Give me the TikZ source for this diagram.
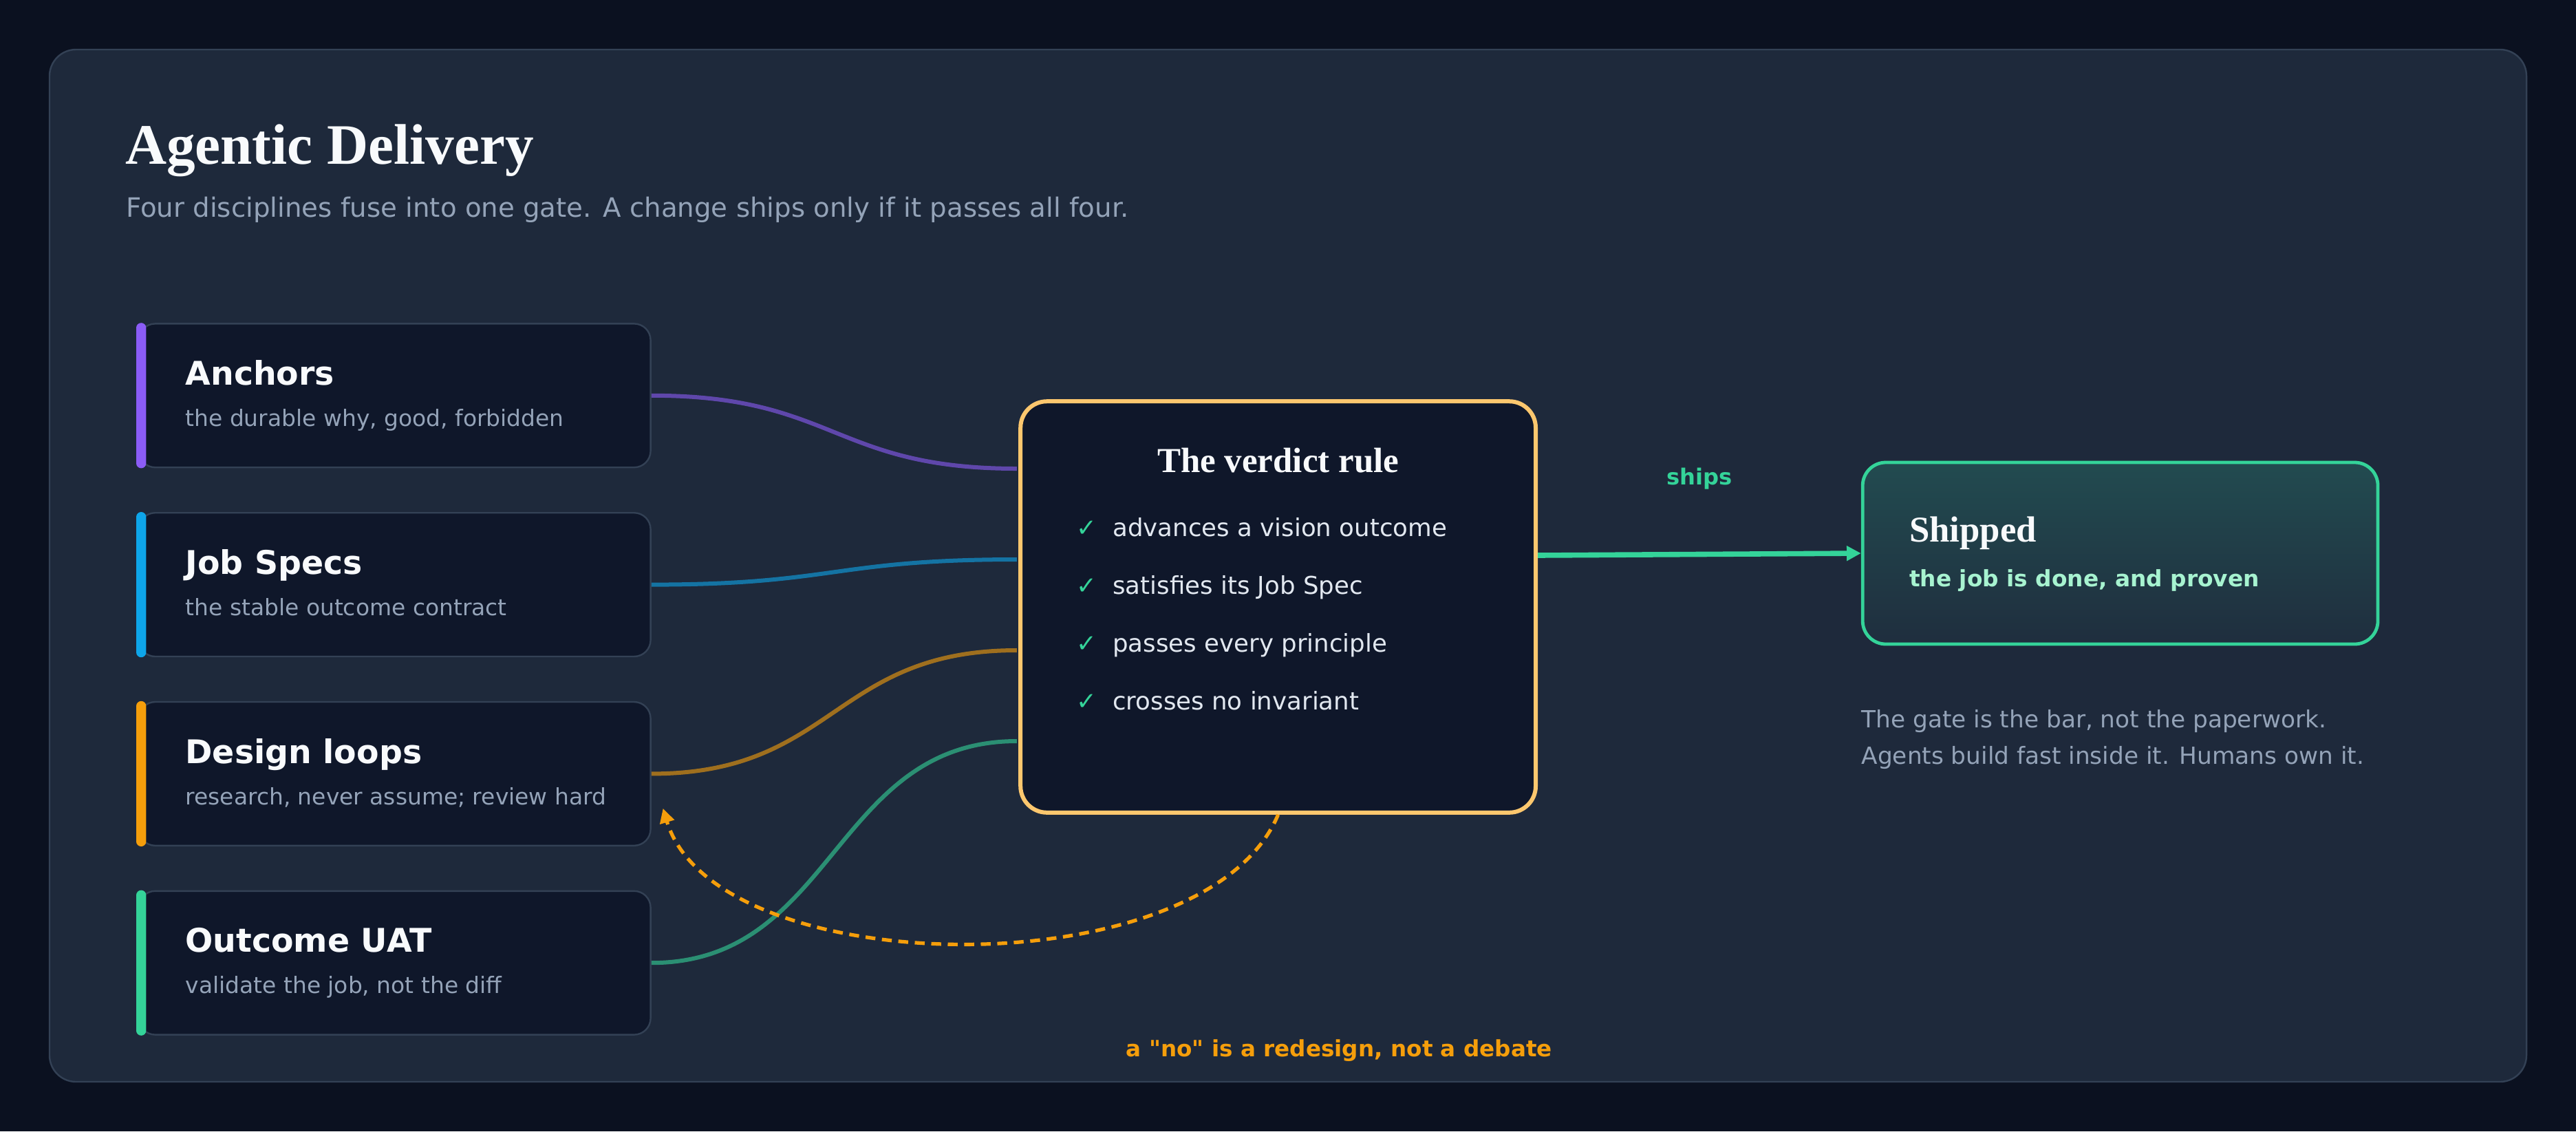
\documentclass[tikz,border=0pt]{standalone}
\usepackage{fontspec}
\setmainfont{Liberation Serif}
\newfontfamily\sans{DejaVu Sans}
\usetikzlibrary{arrows.meta,calc}

\definecolor{pagebg}{HTML}{0B1120}
\definecolor{panelbg}{HTML}{1E293B}
\definecolor{panelline}{HTML}{334155}
\definecolor{cardbg}{HTML}{0F172A}
\definecolor{inkwhite}{HTML}{F8FAFC}
\definecolor{inksoft}{HTML}{E2E8F0}
\definecolor{muted}{HTML}{94A3B8}
\definecolor{accviolet}{HTML}{8B5CF6}
\definecolor{accsky}{HTML}{0EA5E9}
\definecolor{accamber}{HTML}{F59E0B}
\definecolor{accmint}{HTML}{34D399}
\definecolor{mintpale}{HTML}{A7F3D0}
\definecolor{gateline}{HTML}{FCC76E}
\definecolor{shiptop}{HTML}{224B50}
\definecolor{shipbot}{HTML}{1F2E3E}

\newcommand{\tick}{\makebox[13.2pt][l]{\textcolor{accmint}{✓}}}

\begin{document}
\begin{tikzpicture}[x=0.6pt, y=-0.6pt,
    every node/.style={inner sep=0pt},
    card/.style={draw=panelline, fill=cardbg, line width=0.6pt, rounded corners=6pt,
        minimum width=186pt, minimum height=52.2pt},
    cardhead/.style={anchor=base west, text=inkwhite, font=\sans\bfseries\fontsize{11.85}{14}\selectfont},
    cardnote/.style={anchor=base west, text=muted, font=\sans\fontsize{8.23}{10}\selectfont},
    item/.style={anchor=base west, text=inksoft, font=\sans\fontsize{8.9}{11}\selectfont},
    link/.style={line width=1.5pt, draw opacity=0.6},
    tip/.style={-{Triangle[length=5.2pt,width=5.2pt]}}]

    % Page and panel
    \fill[pagebg] (0,0) rectangle (1560,685);
    \draw[panelline, fill=panelbg, line width=0.6pt, rounded corners=9.6pt] (30,30) rectangle (1530,655);

    % Heading
    \node[anchor=base west, text=inkwhite, font=\bfseries\fontsize{20.8}{24}\selectfont] (title) at (75.5,99.3) {Agentic Delivery};
    \node[anchor=base west, text=muted, font=\sans\fontsize{9.68}{12}\selectfont] (subtitle) at (76,131.5)
        {Four disciplines fuse into one gate. A change ships only if it passes all four.};

    % ---------- FOUR DISCIPLINES ----------

    \node[card] (anchors) at (239,239.5) {};
    \fill[accviolet, rounded corners=1.8pt] ($(anchors.north west)+(-1,0)$) rectangle ($(anchors.south west)+(5,0)$);
    \node[cardhead] at ($(anchors.north west)+(28.5,37.6)$) {Anchors};
    \node[cardnote] at ($(anchors.north west)+(28.5,62.6)$) {the durable why, good, forbidden};

    \node[card] (jobspec) at (239,354) {};
    \fill[accsky, rounded corners=1.8pt] ($(jobspec.north west)+(-1,0)$) rectangle ($(jobspec.south west)+(5,0)$);
    \node[cardhead] at ($(jobspec.north west)+(28.5,37.6)$) {Job Specs};
    \node[cardnote] at ($(jobspec.north west)+(28.5,62.6)$) {the stable outcome contract};

    \node[card] (design) at (239,468.5) {};
    \fill[accamber, rounded corners=1.8pt] ($(design.north west)+(-1,0)$) rectangle ($(design.south west)+(5,0)$);
    \node[cardhead] at ($(design.north west)+(28.5,37.6)$) {Design loops};
    \node[cardnote] at ($(design.north west)+(28.5,62.6)$) {research, never assume; review hard};

    \node[card] (uat) at (239,583) {};
    \fill[accmint, rounded corners=1.8pt] ($(uat.north west)+(-1,0)$) rectangle ($(uat.south west)+(5,0)$);
    \node[cardhead] at ($(uat.north west)+(28.5,37.6)$) {Outcome UAT};
    \node[cardnote] at ($(uat.north west)+(28.5,62.6)$) {validate the job, not the diff};

    % ---------- THE GATE ----------

    \node[draw=gateline, fill=cardbg, line width=1.5pt, rounded corners=9.6pt,
        minimum width=187.2pt, minimum height=149.4pt] (gate) at (774,367.5) {};
    \node[anchor=base, text=inkwhite, font=\bfseries\fontsize{12.75}{15}\selectfont] at ($(gate.north)+(0,44.2)$) {The verdict rule};
    \node[item] (rule1) at ($(gate.north west)+(34.8,83)$) {\tick advances a vision outcome};
    \node[item] (rule2) at ($(gate.north west)+(34.8,118)$) {\tick satisfies its Job Spec};
    \node[item] (rule3) at ($(gate.north west)+(34.8,153)$) {\tick passes every principle};
    \node[item] (rule4) at ($(gate.north west)+(34.8,188)$) {\tick crosses no invariant};

    % Entry points on the gate
    \coordinate (in1) at ($(gate.north west)+(-1,42)$);
    \coordinate (in2) at ($(gate.north west)+(-1,97)$);
    \coordinate (in3) at ($(gate.north west)+(-1,152)$);
    \coordinate (in4) at ($(gate.north west)+(-1,207)$);

    % Disciplines fuse into the gate
    \draw[link, accviolet] (anchors.east) .. controls +(111,0) and +(-111,0) .. (in1);
    \draw[link, accsky] (jobspec.east) .. controls +(111,0) and +(-111,0) .. (in2);
    \draw[link, accamber] (design.east) .. controls +(111,0) and +(-111,0) .. (in3);
    \draw[link, accmint] (uat.east) .. controls +(111,0) and +(-111,0) .. (in4);

    % ---------- SHIPPED ----------

    \node[draw=accmint, top color=shiptop, bottom color=shipbot, line width=1.2pt, rounded corners=8.4pt,
        minimum width=187.2pt, minimum height=66pt] (shipped) at (1284,335) {};
    \node[anchor=base west, text=inkwhite, font=\bfseries\fontsize{13.2}{16}\selectfont] at ($(shipped.north west)+(29,49)$) {Shipped};
    \node[anchor=base west, text=mintpale, font=\sans\bfseries\fontsize{8.2}{10}\selectfont] at ($(shipped.north west)+(29,76)$) {the job is done, and proven};

    \coordinate (out) at ($(gate.north east)+(0,94.5)$);
    \draw[tip, accmint, line width=1.9pt] (out) -- (shipped.west);
    \node[anchor=base, text=accmint, font=\sans\bfseries\fontsize{8.04}{10}\selectfont] (shipslabel) at (1029,293.4) {ships};

    \node[anchor=base west, text=muted, font=\sans\fontsize{8.58}{11}\selectfont] (cap1) at ($(shipped.south west)+(0,49.6)$) {The gate is the bar, not the paperwork.};
    \node[anchor=base west, text=muted, font=\sans\fontsize{8.58}{11}\selectfont] (cap2) at ($(shipped.south west)+(0,71.8)$) {Agents build fast inside it. Humans own it.};

    % ---------- REDESIGN LOOP ----------

    \coordinate (redo) at ($(design.south east)+(7,-23)$);
    \draw[tip, accamber, line width=1.3pt, dash pattern=on 3.6pt off 2.4pt]
        (gate.south) .. controls +(-44,106) and +(32,106) .. (redo);
    \node[anchor=base, text=accamber, font=\sans\bfseries\fontsize{8.16}{10}\selectfont] (redolabel) at (811,639.6)
        {a "no" is a redesign, not a debate};

\end{tikzpicture}
\end{document}
